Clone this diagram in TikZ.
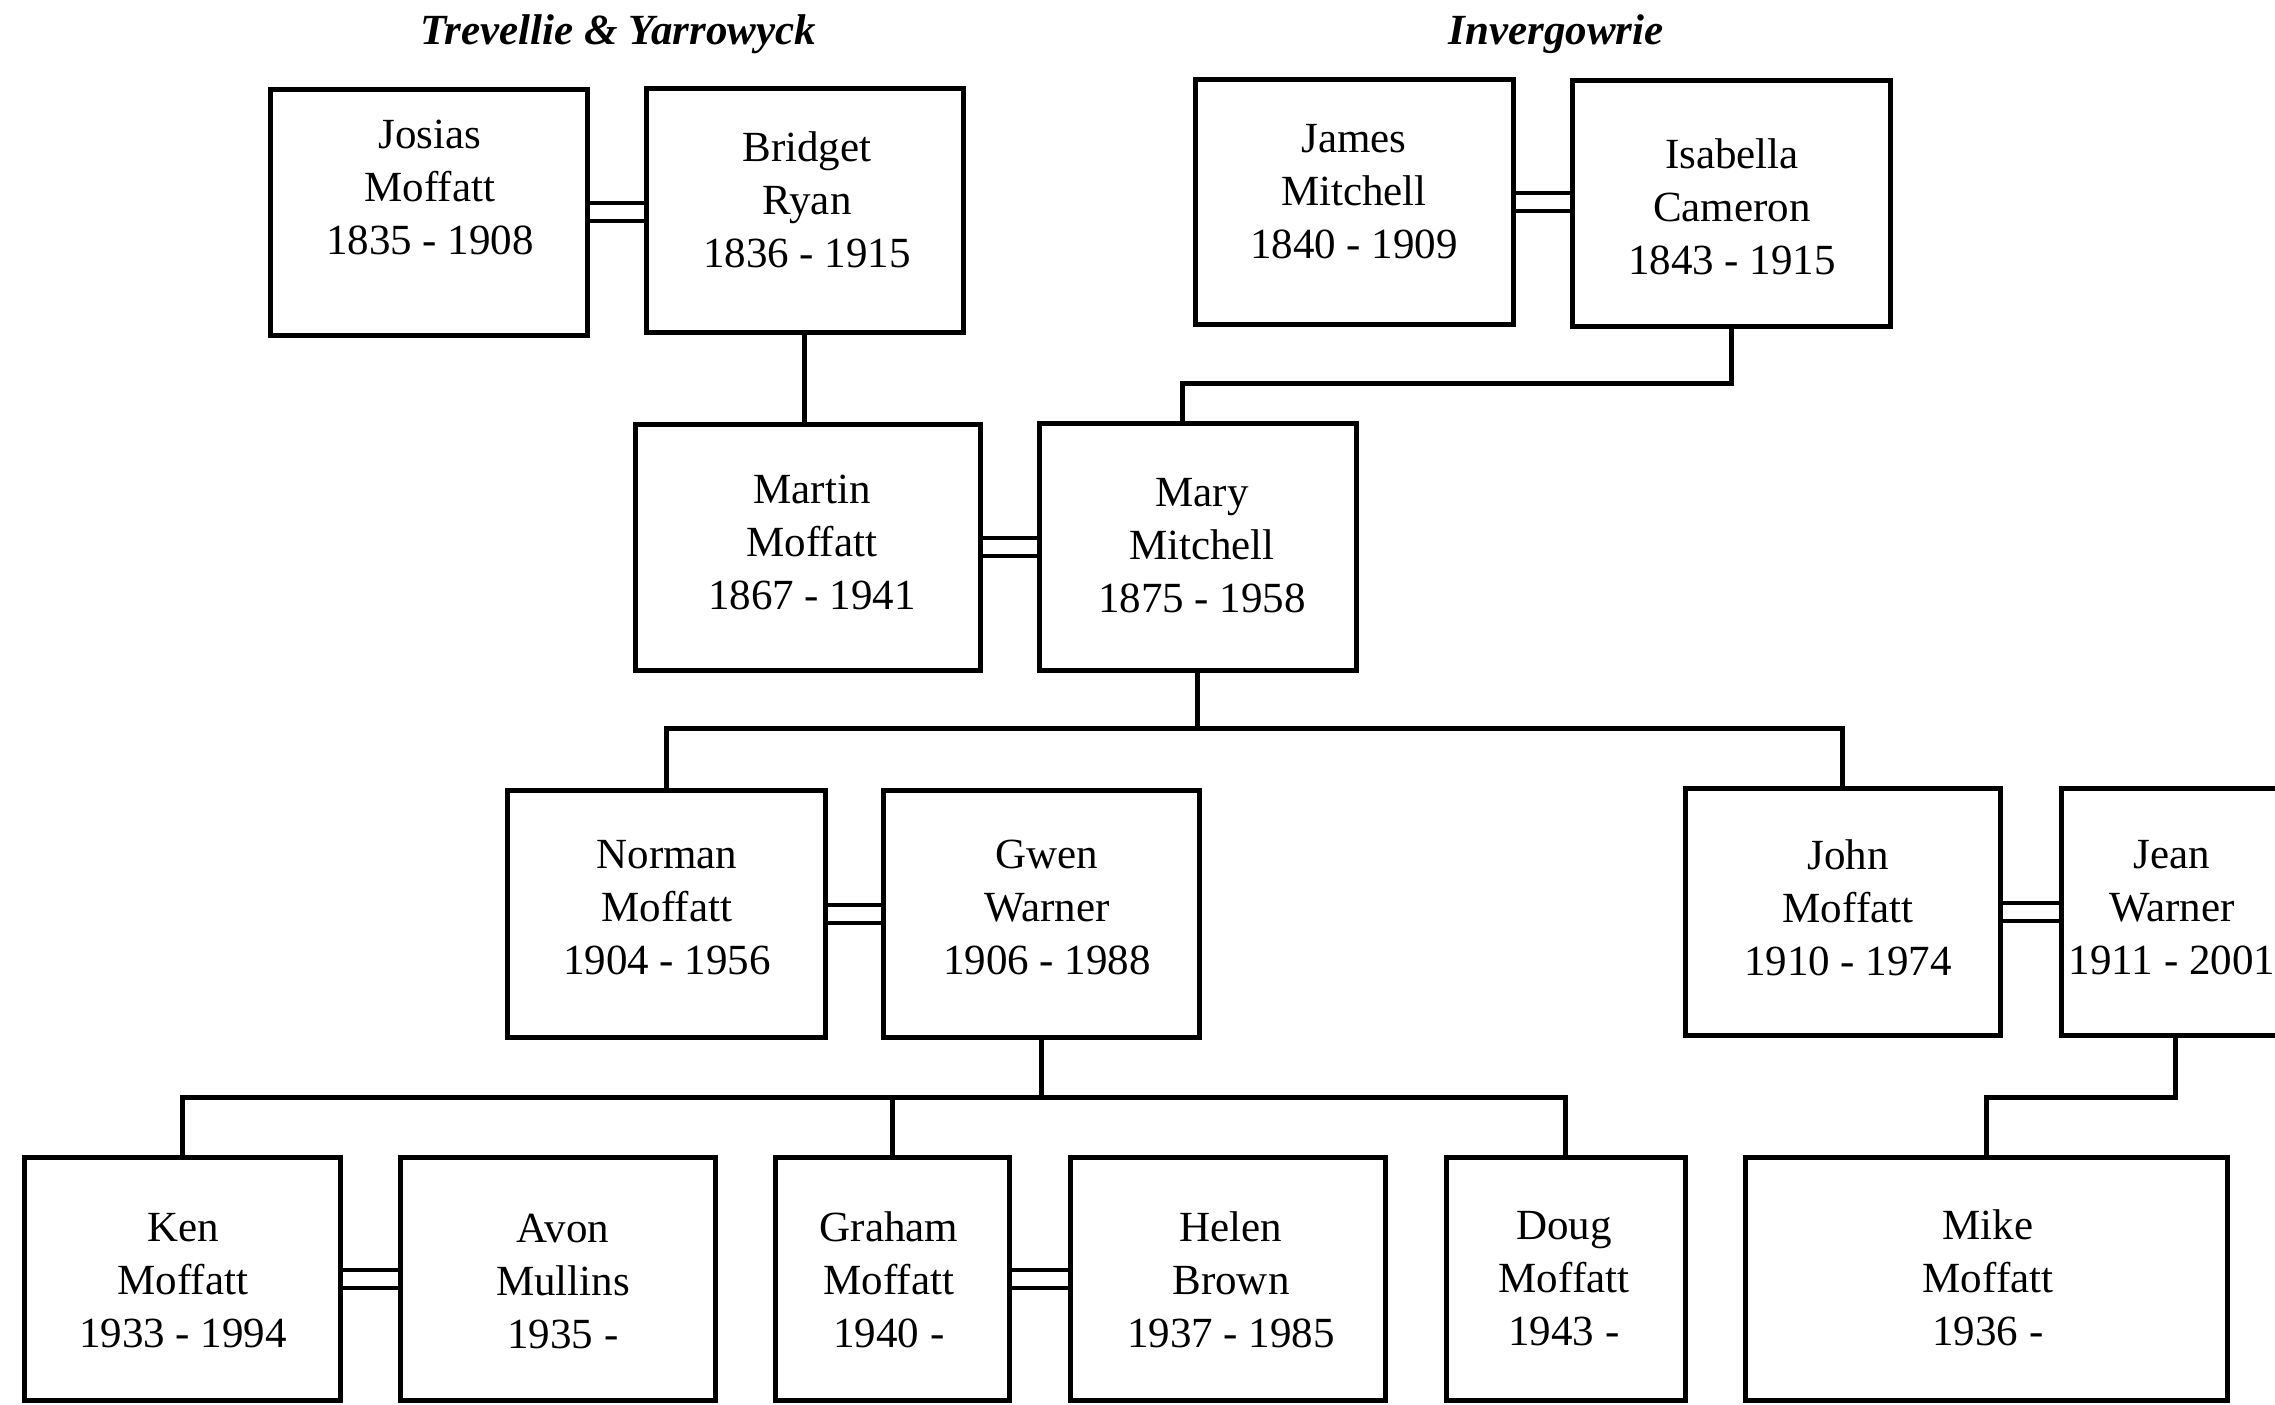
\documentclass[tikz,border=0pt]{standalone}
\usepackage{fontspec}
\setmainfont{Liberation Serif}
\usetikzlibrary{calc}
\tikzset{
  pbox/.style={draw, line width=5pt, inner sep=0pt, outer sep=0pt, rectangle},
  ptext/.style={anchor=base, inner sep=0pt, font=\fontsize{43}{53}\selectfont},
  conn/.style={line width=5pt},
  marr/.style={line width=4pt},
  ttl/.style={anchor=base, inner sep=0pt, font=\fontsize{43}{50}\selectfont\bfseries\itshape}
}
\newcommand\pbx[5]{\node[pbox, minimum width={#4-#2}, minimum height={#5-#3}] (#1) at ({(#2+#4)/2},{(#3+#5)/2}) {};}
\newcommand\ptx[4]{\node[ptext] (#1) at (#2,#3) {\begin{tabular}[t]{@{}c@{}}#4\end{tabular}};}
\newcommand\marry[2]{%
  \draw[marr] ($(#1.east)+(0,9)$) -- ($(#1.east -| #2.west)+(0,9)$);
  \draw[marr] ($(#1.east)+(0,-9)$) -- ($(#1.east -| #2.west)+(0,-9)$);}
\begin{document}
\begin{tikzpicture}[x=1pt, y=-1pt]
\useasboundingbox (0,0) rectangle (2275,1405);
% titles
\node[ttl] (t1) at (618,45) {Trevellie \& Yarrowyck};
\node[ttl] (t2) at (1556,45) {Invergowrie};
% boxes
\pbx{josias}{270}{89}{587}{335}
\pbx{bridget}{646}{88}{963}{332}
\pbx{james}{1195}{79}{1513}{324}
\pbx{isabella}{1572}{80}{1890}{326}
\pbx{martin}{635}{424}{980}{670}
\pbx{mary}{1039}{423}{1356}{670}
\pbx{norman}{507}{790}{825}{1037}
\pbx{gwen}{883}{790}{1199}{1037}
\pbx{john}{1685}{788}{2000}{1035}
\pbx{jean}{2061}{788}{2290}{1035}
\pbx{ken}{24}{1157}{340}{1400}
\pbx{avon}{400}{1157}{715}{1400}
\pbx{graham}{775}{1157}{1009}{1400}
\pbx{helen}{1070}{1157}{1385}{1400}
\pbx{doug}{1446}{1157}{1685}{1400}
\pbx{mike}{1745}{1157}{2227}{1400}
% texts
\ptx{josiasT}{430}{148}{Josias\\Moffatt\\1835 - 1908}
\ptx{bridgetT}{807}{161}{Bridget\\Ryan\\1836 - 1915}
\ptx{jamesT}{1354}{152}{James\\Mitchell\\1840 - 1909}
\ptx{isabellaT}{1732}{168}{Isabella\\Cameron\\1843 - 1915}
\ptx{martinT}{812}{503}{Martin\\Moffatt\\1867 - 1941}
\ptx{maryT}{1202}{506}{Mary\\Mitchell\\1875 - 1958}
\ptx{normanT}{667}{868}{Norman\\Moffatt\\1904 - 1956}
\ptx{gwenT}{1047}{868}{Gwen\\Warner\\1906 - 1988}
\ptx{johnT}{1848}{869}{John\\Moffatt\\1910 - 1974}
\ptx{jeanT}{2172}{868}{Jean\\Warner\\1911 - 2001}
\ptx{kenT}{183}{1241}{Ken\\Moffatt\\1933 - 1994}
\ptx{avonT}{563}{1242}{Avon\\Mullins\\1935 -}
\ptx{grahamT}{889}{1241}{Graham\\Moffatt\\1940 -}
\ptx{helenT}{1231}{1241}{Helen\\Brown\\1937 - 1985}
\ptx{dougT}{1564}{1239}{Doug\\Moffatt\\1943 -}
\ptx{mikeT}{1988}{1239}{Mike\\Moffatt\\1936 -}
% marriages
\marry{josias}{bridget}
\marry{james}{isabella}
\marry{martin}{mary}
\marry{norman}{gwen}
\marry{john}{jean}
\marry{ken}{avon}
\marry{graham}{helen}
% descent
\draw[conn] (bridget.south) -- (bridget.south |- martin.north);
\coordinate (imj) at (1182,383);
\draw[conn] (isabella.south) |- (imj) -- (imj |- mary.north);
\coordinate (bar1) at (0,728);
\draw[conn] (mary.south) -- (mary.south |- bar1);
\draw[conn] (norman.north) |- (bar1 -| john.north) -- (john.north);
\coordinate (bar2) at (0,1097);
\draw[conn] (gwen.south) -- (gwen.south |- bar2);
\draw[conn] (ken.north) |- (bar2 -| doug.north) -- (doug.north);
\draw[conn] (graham.north) -- (graham.north |- bar2);
\draw[conn] (jean.south) |- (bar2 -| mike.north) -- (mike.north);
\end{tikzpicture}
\end{document}
